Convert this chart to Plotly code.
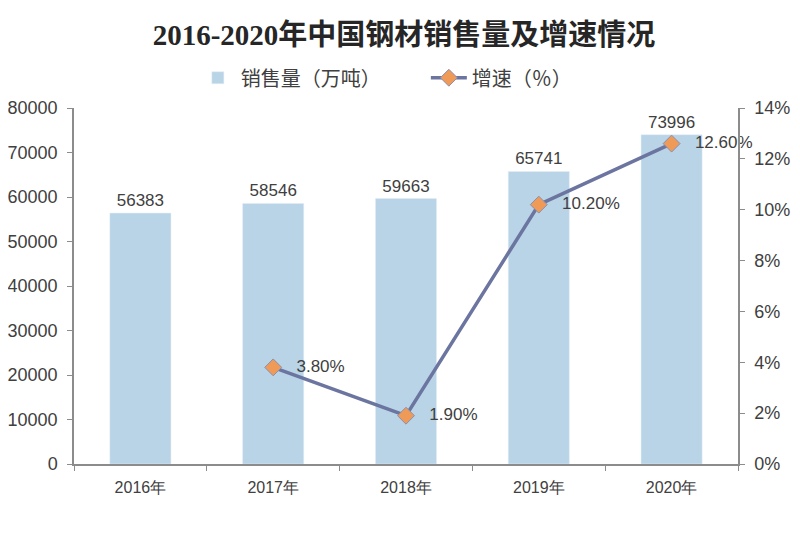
import plotly.graph_objects as go
from plotly.subplots import make_subplots

years = ["2016年", "2017年", "2018年", "2019年", "2020年"]
sales = [56383, 58546, 59663, 65741, 73996]
growth_years = ["2017年", "2018年", "2019年", "2020年"]
growth = [3.8, 1.9, 10.2, 12.6]

fig = make_subplots(specs=[[{"secondary_y": True}]])

fig.add_trace(go.Bar(
    x=years, y=sales, name="销售量（万吨）",
    marker={"color": "#b8d4e6"},
    width=0.46,
    text=[str(v) for v in sales], textposition="outside",
    textfont={"size": 17, "color": "#404040", "family": "Liberation Sans, Arial"},
    cliponaxis=False,
), secondary_y=False)

fig.add_trace(go.Scatter(
    x=growth_years, y=growth, name="增速（％）",
    mode="lines+markers+text",
    line={"color": "#6b75a0", "width": 3.5},
    marker={"symbol": "diamond", "size": 13, "color": "#f09a58",
            "line": {"color": "#8a8fb0", "width": 1}},
    text=[f"   {v:.2f}%" for v in growth], textposition="middle right",
    textfont={"size": 17, "color": "#404040", "family": "Liberation Sans, Arial"},
    cliponaxis=False,
), secondary_y=True)

fig.update_layout(
    width=792, height=540,
    margin={"l": 66, "r": 62, "t": 100, "b": 84, "autoexpand": False},
    paper_bgcolor="white", plot_bgcolor="white",
    title={"text": "<b>2016-2020年中国钢材销售量及增速情况</b>",
           "x": 0.5, "xanchor": "center", "y": 0.95, "yanchor": "middle",
           "font": {"size": 29, "color": "#262626",
                    "family": "Liberation Serif, Noto Sans CJK SC"}},
    legend={"orientation": "h", "x": 0.182, "xanchor": "left", "y": 1.085,
            "yanchor": "middle",
            "font": {"size": 20, "color": "#404040", "family": "Noto Sans CJK SC"},
            "entrywidth": 180, "entrywidthmode": "pixels", "itemwidth": 36},
    bargap=0.54,
    font={"family": "Liberation Sans, Arial", "color": "#404040"},
)

fig.update_xaxes(domain=[0, 1], showline=True, linecolor="#8c8c8c", linewidth=1.5,
                 ticks="outside", ticklen=5, tickcolor="#8c8c8c",
                 tickson="boundaries", showgrid=False, automargin=False,
                 ticklabelstandoff=8,
                 tickfont={"size": 16, "color": "#404040"})
fig.update_yaxes(range=[0, 80000], dtick=10000, tickformat="d", showgrid=False,
                 showline=True, linecolor="#8c8c8c", linewidth=1.5,
                 ticks="outside", ticklen=5, tickcolor="#8c8c8c",
                 tickfont={"size": 18, "color": "#404040"}, automargin=False,
                 ticklabelstandoff=6, secondary_y=False)
fig.update_yaxes(range=[0, 14], dtick=2, ticksuffix="%", showgrid=False,
                 showline=True, linecolor="#8c8c8c", linewidth=1.5,
                 ticks="outside", ticklen=5, tickcolor="#8c8c8c",
                 tickfont={"size": 18, "color": "#404040"}, automargin=False,
                 ticklabelstandoff=6, secondary_y=True)

fig.write_html("out.html")
